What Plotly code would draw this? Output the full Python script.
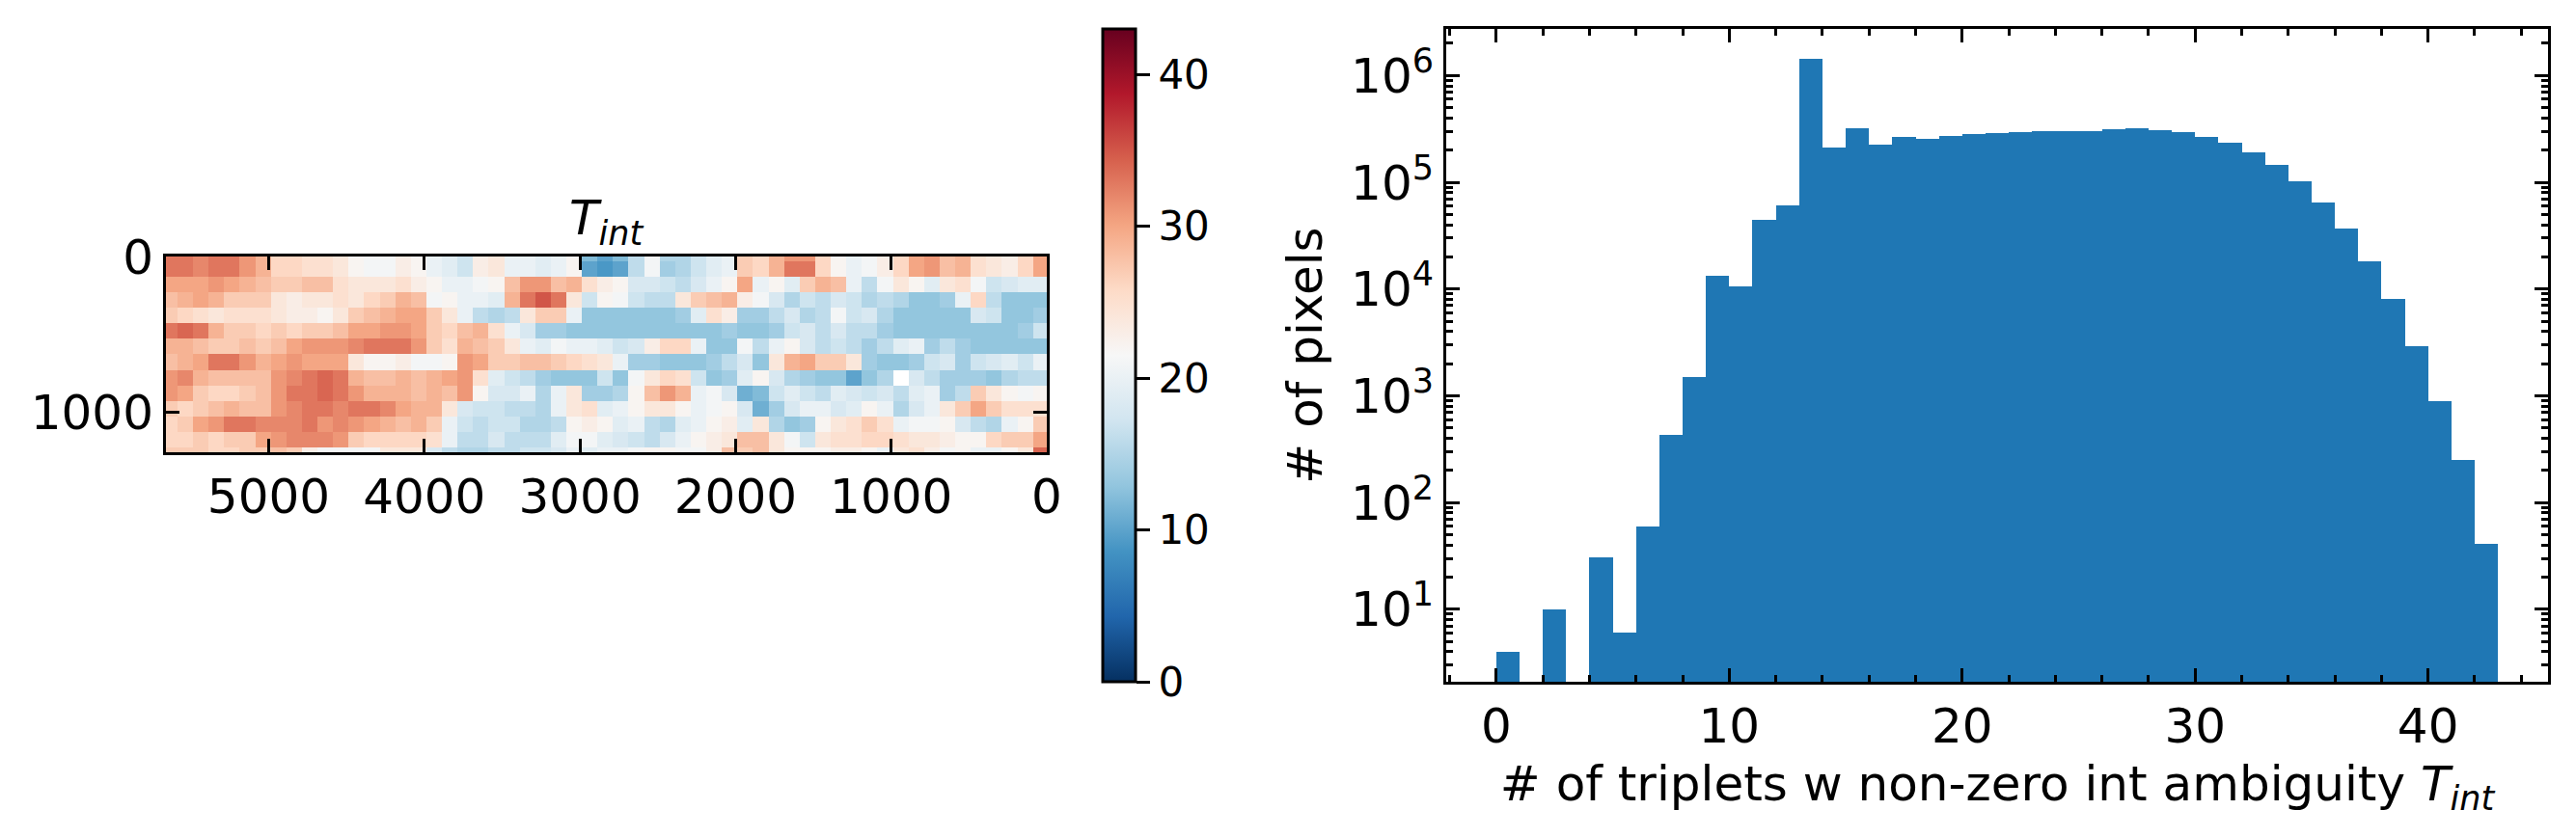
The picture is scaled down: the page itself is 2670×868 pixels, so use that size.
import plotly.graph_objects as go

W, H = 2670, 868

# histogram counts per integer bin 0..42
tripletBins = list(range(43))
pixelCounts = [4, None, 10, None, 31, 6, 60, 430, 1510, 13200,
               10500, 44000, 61000, 1430000, 212000, 321000, 226000, 267000, 256000, 272000,
               284000, 290000, 296000, 302000, 302000, 302000, 315000, 321000, 308000, 296000,
               267000, 236000, 191000, 146000, 103000, 65000, 36500, 18000, 8000, 2900,
               900, 251, 41]
logTicks = [10, 100, 1000, 10000, 100000, 1000000]
logTickText = ["10<sup>1</sup>", "10<sup>2</sup>", "10<sup>3</sup>", "10<sup>4</sup>", "10<sup>5</sup>", "10<sup>6</sup>"]

rdBu = ["#053061", "#2166ac", "#4393c3", "#92c5de", "#d1e5f0", "#f7f7f7",
        "#fddbc7", "#f4a582", "#d6604d", "#b2182b", "#67001f"]

# coarse read of the T_int map, one list per row (100 x 100 px blocks), left to right
xEdges = list(range(5686, -15, -100))
yEdges = list(range(-72, 1329, 100))
row00 = [33, 33, 32, 33, 33, 31, 29, 26, 26, 25, 25, 24, 22, 21, 21, 23, 22, 20, 19,
         17, 23, 24, 20, 20, 19, 20, 22, 12, 10, 12, 16, 21, 15, 15, 17, 19, 20, 27,
         26, 29, 31, 31, 26, 22, 20, 21, 23, 26, 30, 31, 28, 29, 25, 24, 23, 26, 30]
row01 = [33, 33, 32, 33, 33, 31, 29, 26, 26, 25, 25, 24, 22, 21, 21, 23, 22, 20, 19,
         17, 23, 24, 20, 20, 19, 20, 22, 10, 9, 10, 16, 21, 14, 15, 17, 19, 20, 27,
         26, 29, 33, 33, 26, 22, 20, 21, 23, 26, 30, 31, 28, 29, 25, 24, 23, 26, 30]
row02 = [30, 30, 30, 31, 30, 29, 28, 27, 27, 28, 28, 25, 24, 24, 24, 25, 23, 22, 20,
         20, 21, 22, 28, 31, 31, 28, 29, 25, 23, 22, 18, 18, 17, 16, 18, 20, 22, 30,
         20, 22, 19, 27, 29, 28, 20, 16, 21, 24, 22, 19, 24, 25, 21, 17, 18, 19, 19]
row03 = [28, 29, 30, 29, 27, 27, 27, 24, 23, 24, 24, 25, 24, 26, 27, 29, 28, 21, 22,
         20, 20, 19, 29, 33, 35, 33, 24, 17, 22, 21, 17, 16, 16, 24, 27, 28, 29, 23,
         21, 18, 15, 17, 16, 18, 17, 15, 16, 15, 13, 13, 14, 20, 26, 16, 13, 13, 13]
row04 = [27, 26, 25, 24, 25, 25, 25, 24, 23, 23, 22, 24, 27, 28, 29, 30, 30, 27, 24,
         20, 16, 15, 16, 24, 27, 27, 20, 13, 13, 13, 13, 13, 13, 14, 19, 25, 23, 14,
         14, 16, 18, 15, 16, 21, 17, 18, 15, 13, 13, 13, 13, 13, 18, 17, 13, 13, 14]
row05 = [33, 34, 33, 29, 27, 27, 26, 27, 26, 27, 27, 28, 30, 30, 31, 31, 30, 27, 26,
         28, 29, 25, 20, 18, 14, 14, 13, 13, 13, 13, 13, 13, 13, 13, 13, 13, 14, 13,
         13, 14, 17, 18, 16, 18, 16, 16, 14, 13, 13, 13, 13, 13, 13, 13, 13, 14, 17]
row06 = [29, 29, 28, 27, 27, 28, 27, 28, 30, 31, 31, 31, 32, 33, 33, 33, 31, 27, 25,
         29, 28, 27, 24, 20, 19, 21, 20, 20, 19, 17, 18, 23, 26, 26, 20, 13, 13, 21,
         16, 20, 22, 18, 16, 17, 16, 14, 16, 19, 20, 14, 16, 14, 13, 13, 13, 13, 13]
row07 = [28, 29, 30, 33, 33, 31, 29, 30, 31, 30, 30, 30, 24, 22, 22, 23, 21, 21, 22,
         31, 30, 27, 27, 28, 28, 27, 26, 25, 24, 20, 14, 14, 13, 13, 13, 14, 16, 18,
         13, 24, 29, 30, 27, 27, 24, 14, 13, 13, 14, 17, 18, 14, 17, 18, 19, 17, 20]
row08 = [31, 32, 29, 28, 28, 28, 28, 31, 32, 33, 34, 33, 29, 28, 28, 29, 28, 29, 30,
         31, 25, 19, 17, 16, 14, 13, 13, 13, 17, 13, 21, 24, 26, 25, 17, 13, 14, 19,
         22, 18, 15, 14, 13, 13, 10, 13, 15, None, 18, 16, 14, 14, 14, 13, 15, 16, 16]
row09 = [31, 30, 27, 26, 26, 27, 28, 31, 33, 33, 34, 33, 31, 29, 29, 29, 28, 29, 28,
         31, 22, 18, 18, 20, 15, 20, 24, 14, 14, 15, 22, 28, 31, 29, 20, 21, 18, 11,
         12, 17, 19, 17, 16, 19, 18, 17, 18, 16, 19, 20, 14, 16, 27, 24, 22, 21, 22]
row10 = [27, 26, 27, 28, 29, 28, 28, 31, 32, 33, 33, 32, 33, 33, 32, 30, 29, 29, 24,
         18, 17, 17, 16, 16, 15, 20, 24, 25, 19, 20, 22, 24, 24, 22, 20, 21, 22, 18,
         11, 14, 18, 20, 20, 18, 19, 22, 20, 15, 18, 20, 24, 27, 30, 27, 25, 25, 25]
row11 = [26, 27, 30, 31, 33, 33, 32, 32, 32, 33, 31, 32, 31, 30, 29, 28, 29, 27, 20,
         17, 16, 17, 17, 15, 15, 16, 22, 23, 22, 19, 20, 16, 15, 19, 20, 22, 23, 19,
         24, 15, 13, 14, 22, 24, 25, 27, 25, 20, 21, 21, 22, 18, 16, 15, 20, 22, 27]
row12 = [26, 26, 27, 26, 27, 27, 30, 31, 32, 32, 32, 31, 27, 26, 26, 26, 26, 25, 20,
         16, 16, 18, 16, 16, 16, 19, 21, 21, 19, 18, 17, 16, 18, 20, 22, 23, 24, 28,
         28, 24, 21, 17, 24, 25, 25, 26, 26, 25, 24, 24, 23, 22, 22, 26, 27, 27, 30]
row13 = [27, 27, 27, 26, 26, 27, 27, 28, 27, 23, 21, 21, 21, 21, 24, 24, 24, 18, 16,
         15, 15, 16, 16, 17, 17, 18, 20, 19, 20, 20, 21, 22, 22, 21, 21, 23, 28, 27,
         28, 24, 22, 22, 22, 23, 23, 22, 20, 24, 25, 23, 21, 22, 20, 20, 22, 24, 34]
tintMap = [row00, row01, row02, row03, row04, row05, row06, row07, row08, row09, row10, row11, row12, row13]

fontFam = "DejaVu Sans"
tickFont = dict(family=fontFam, size=50, color="black")
labelFont = dict(family=fontFam, size=50, color="black")
cbFont = dict(family=fontFam, size=42, color="black")

fig = go.Figure()

fig.add_trace(go.Heatmap(
    x=xEdges, y=yEdges, z=tintMap, zmin=0, zmax=43, colorscale=rdBu, hoverongaps=False,
    xaxis="x", yaxis="y",
    colorbar=dict(
        x=1143 / W, xanchor="left", xpad=0, y=(H - 707) / H, yanchor="bottom", ypad=0,
        len=677 / H, lenmode="fraction", thickness=34, thicknessmode="pixels",
        outlinewidth=3, outlinecolor="black", tickmode="array", tickvals=[0, 10, 20, 30, 40],
        ticks="outside", ticklen=14, tickwidth=3, tickcolor="black", tickfont=cbFont),
))

fig.add_trace(go.Bar(
    x=[b + 0.5 for b in tripletBins], y=pixelCounts, width=1, marker=dict(color="#1f77b4", line=dict(width=0)),
    xaxis="x2", yaxis="y2", showlegend=False,
))

axisStyle = dict(showgrid=False, zeroline=False, showline=True, linecolor="black", linewidth=3, mirror="allticks",
                 ticks="inside", ticklen=14, tickwidth=3, tickcolor="black", tickfont=tickFont)

fig.update_layout(
    width=W, height=H, autosize=False, margin=dict(l=0, r=0, t=0, b=0, autoexpand=False),
    paper_bgcolor="white", plot_bgcolor="white", bargap=0, showlegend=False,
    xaxis=dict(axisStyle, domain=[172 / W, 1085 / W], range=[5660, 0], tickvals=[5000, 4000, 3000, 2000, 1000, 0]),
    yaxis=dict(axisStyle, domain=[(H - 469) / H, (H - 266) / H], range=[1258, 0], tickvals=[0, 1000]),
    xaxis2=dict(axisStyle, domain=[1499 / W, 2641 / W], range=[-2.15, 45.15], anchor="y2",
                tickvals=[0, 10, 20, 30, 40],
                minor=dict(ticks="inside", ticklen=7, tickwidth=2.5, tickcolor="black", dtick=2, tick0=0),
                title=dict(text="# of triplets w non-zero int ambiguity <i>T</i><sub><i>int</i></sub>", font=labelFont, standoff=14)),
    yaxis2=dict(axisStyle, domain=[(H - 707) / H, (H - 30) / H], type="log", range=[0.322, 6.436], anchor="x2",
                tickmode="array", tickvals=logTicks, ticktext=logTickText,
                minor=dict(ticks="inside", ticklen=7, tickwidth=2.5, tickcolor="black", dtick="D1"),
                title=dict(text="# of pixels", font=labelFont, standoff=14)),
    annotations=[dict(text="<i>T</i><sub><i>int</i></sub>", xref="paper", yref="paper", x=628 / W, y=(H - 264) / H,
                      xanchor="center", yanchor="bottom", showarrow=False, font=labelFont)],
)

fig.write_html("out.html", post_script="document.body.style.margin='0';", config=dict(displayModeBar=False))
